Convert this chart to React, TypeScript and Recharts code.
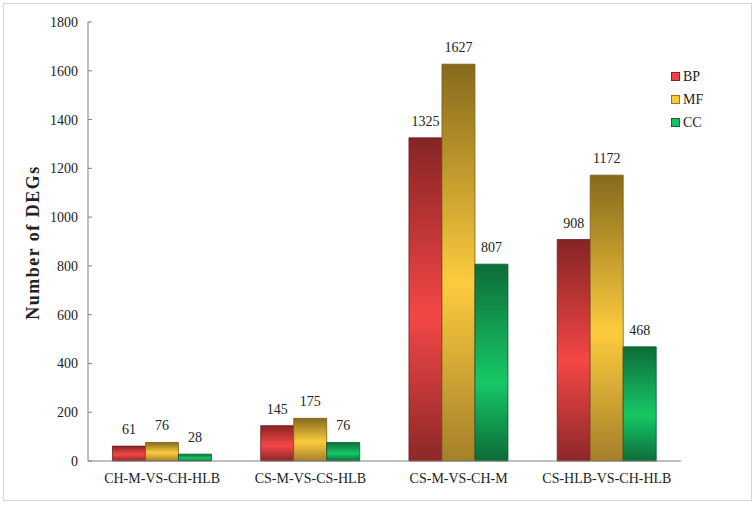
import React from 'react';
import { BarChart, Bar, XAxis, YAxis, LabelList, Legend } from 'recharts';

const categories = ['CH-M-VS-CH-HLB', 'CS-M-VS-CS-HLB', 'CS-M-VS-CH-M', 'CS-HLB-VS-CH-HLB'];
const bpValues = [61, 145, 1325, 908];
const mfValues = [76, 175, 1627, 1172];
const ccValues = [28, 76, 807, 468];
const yTicks = [0, 200, 400, 600, 800, 1000, 1200, 1400, 1600, 1800];
const boundaryTicks = [0, 1, 2, 3, 4];

const data = categories.map((name, i) => ({ name, BP: bpValues[i], MF: mfValues[i], CC: ccValues[i] }));

const FONT = '"Liberation Serif", "Times New Roman", serif';

const legendItems = [
  { name: 'BP', color: '#f04040', border: '#8a2020' },
  { name: 'MF', color: '#f8c838', border: '#9a7a18' },
  { name: 'CC', color: '#18c060', border: '#0c6a34' },
];

const renderLegend = () => (
  <div style={{ fontFamily: FONT, fontSize: 14, color: '#222' }}>
    {legendItems.map((it) => (
      <div key={it.name} style={{ display: 'flex', alignItems: 'center', height: 23 }}>
        <span
          style={{
            display: 'inline-block',
            width: 7,
            height: 7,
            background: it.color,
            border: `1px solid ${it.border}`,
            marginRight: 3,
          }}
        />
        <span>{it.name}</span>
      </div>
    ))}
  </div>
);

const YLabel = (props: any) => {
  const vb = props.viewBox || { x: 28, y: 22, width: 60, height: 439 };
  const cx = vb.x + 5;
  const cy = vb.y + vb.height / 2 + 1;
  return (
    <text
      x={cx}
      y={cy}
      transform={`rotate(-90, ${cx}, ${cy})`}
      textAnchor="middle"
      dominantBaseline="central"
      fontFamily={FONT}
      fontSize={18}
      fontWeight="bold"
      letterSpacing={1.5}
      fill="#222"
    >
      Number of DEGs
    </text>
  );
};

export default function App() {
  return (
    <div style={{ position: 'absolute', left: 0, top: 0, width: 755, height: 505, background: '#fff' }}>
      <div
        style={{
          position: 'absolute',
          left: 3,
          top: 3,
          width: 747,
          height: 496,
          border: '1px solid #d4d4d4',
        }}
      />
      <div style={{ position: 'absolute', left: 0, top: 0 }}>
        <BarChart
          width={755}
          height={505}
          data={data}
          margin={{ top: 22, right: 74, bottom: 14, left: 28 }}
          barCategoryGap="16.5%"
          barGap={0}
        >
          <defs>
            <linearGradient id="gBP" x1="0" y1="0" x2="0" y2="1">
              <stop offset="0%" stopColor="#862424" />
              <stop offset="55%" stopColor="#f44646" />
              <stop offset="100%" stopColor="#8c2828" />
            </linearGradient>
            <linearGradient id="gMF" x1="0" y1="0" x2="0" y2="1">
              <stop offset="0%" stopColor="#866a1c" />
              <stop offset="55%" stopColor="#fccb3e" />
              <stop offset="100%" stopColor="#a4802a" />
            </linearGradient>
            <linearGradient id="gCC" x1="0" y1="0" x2="0" y2="1">
              <stop offset="0%" stopColor="#0e6c38" />
              <stop offset="60%" stopColor="#16c866" />
              <stop offset="100%" stopColor="#0c6c38" />
            </linearGradient>
          </defs>
          <XAxis
            xAxisId="b"
            type="number"
            domain={[0, 4]}
            ticks={boundaryTicks}
            mirror
            tick={false}
            tickSize={4}
            axisLine={false}
            tickLine={{ stroke: '#808080' }}
            height={0}
          />
          <XAxis
            dataKey="name"
            xAxisId={0}
            height={30}
            tickLine={false}
            axisLine={{ stroke: '#808080' }}
            tick={{ fontFamily: FONT, fontSize: 14, fill: '#222' }}
            tickMargin={6}
            interval={0}
          />
          <YAxis
            width={60}
            domain={[0, 1800]}
            ticks={yTicks}
            interval={0}
            tickSize={-4}
            tickMargin={14}
            axisLine={{ stroke: '#808080' }}
            tickLine={{ stroke: '#808080' }}
            tick={{ fontFamily: FONT, fontSize: 14, fill: '#222' }}
            label={<YLabel />}
          />
          <Legend
            layout="horizontal"
            align="center"
            verticalAlign="middle"
            content={renderLegend}
            wrapperStyle={{ position: 'absolute', left: 671, top: 65, width: 60 }}
          />
          <Bar dataKey="BP" fill="url(#gBP)" stroke="#6e1c1c" strokeWidth={0.8} isAnimationActive={false}>
            <LabelList dataKey="BP" position="top" offset={12} style={{ fontFamily: FONT, fontSize: 14, fill: '#222' }} />
          </Bar>
          <Bar dataKey="MF" fill="url(#gMF)" stroke="#7a5e14" strokeWidth={0.8} isAnimationActive={false}>
            <LabelList dataKey="MF" position="top" offset={12} style={{ fontFamily: FONT, fontSize: 14, fill: '#222' }} />
          </Bar>
          <Bar dataKey="CC" fill="url(#gCC)" stroke="#0a5a2e" strokeWidth={0.8} isAnimationActive={false}>
            <LabelList dataKey="CC" position="top" offset={12} style={{ fontFamily: FONT, fontSize: 14, fill: '#222' }} />
          </Bar>
        </BarChart>
      </div>
    </div>
  );
}
